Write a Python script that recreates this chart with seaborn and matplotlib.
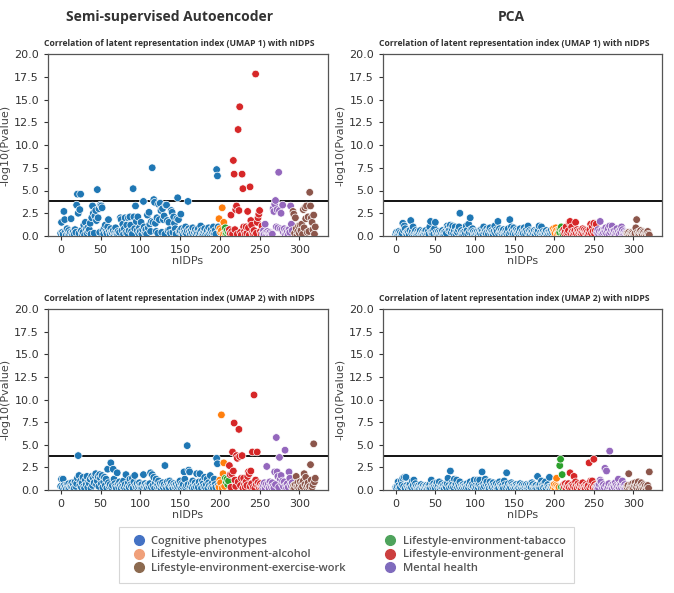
import numpy as np
import pandas as pd
import matplotlib
matplotlib.use("Agg")
import matplotlib.pyplot as plt
from matplotlib.lines import Line2D
import seaborn as sns

# Grupos de nIDPs (en orden de índice)
group_names = ["Cognitive phenotypes", "Lifestyle-environment-alcohol",
               "Lifestyle-environment-tabacco", "Lifestyle-environment-general",
               "Mental health", "Lifestyle-environment-exercise-work"]
group_sizes = [199, 8, 5, 42, 38, 29]

threshold = 3.8

# -log10(Pvalue) - Semi-supervised Autoencoder, UMAP 1
sae_umap1 = [
    0.3, 1.5, 0.4, 0.2, 2.7, 1.8, 0.5, 0.1, 0.8, 0.3, 0.6, 0.2, 0.4, 1.9, 0.3, 0.1, 0.5, 0.2, 0.7, 0.4,
    3.4, 4.6, 2.5, 0.3, 2.9, 4.6, 0.6, 0.2, 0.4, 1.2, 0.1, 1.5, 0.8, 0.3, 0.9, 0.5, 0.7, 1.4, 0.2, 2.0,
    3.3, 2.5, 0.3, 2.2, 2.8, 1.7, 5.1, 2.0, 3.0, 0.4, 3.4, 3.3, 3.1, 0.6, 0.2, 0.9, 1.2, 0.5, 0.3, 1.0,
    1.8, 0.5, 0.2, 0.8, 0.4, 0.3, 0.6, 0.1, 0.4, 0.9, 0.3, 0.2, 0.5, 0.1, 0.4, 2.0, 1.8, 0.6, 1.3, 0.2,
    0.8, 2.0, 0.4, 1.2, 0.3, 2.0, 0.6, 2.1, 1.2, 0.5, 0.2, 5.2, 2.1, 0.8, 3.3, 1.6, 0.6, 2.1, 0.3, 0.9,
    0.5, 1.5, 0.2, 0.7, 3.8, 1.0, 0.4, 0.7, 0.2, 2.3, 0.9, 2.6, 1.3, 0.5, 1.6, 7.5, 1.5, 4.0, 3.7, 1.4,
    0.5, 2.0, 0.3, 3.5, 1.8, 3.6, 2.8, 0.4, 3.0, 1.8, 2.2, 0.2, 3.4, 3.4, 1.7, 0.6, 1.5, 0.7, 0.3, 2.8,
    2.6, 0.4, 2.1, 1.4, 0.8, 0.2, 1.9, 4.2, 1.8, 0.5, 0.6, 2.4, 0.8, 0.3, 0.1, 0.7, 0.4, 1.0, 0.3, 0.6,
    3.8, 0.8, 0.5, 0.2, 0.6, 0.3, 0.9, 0.1, 0.4, 0.7, 0.2, 0.5, 0.3, 0.8, 0.1, 0.4, 1.1, 0.6, 0.2, 0.3,
    0.5, 0.8, 0.2, 0.4, 0.6, 0.1, 0.9, 0.3, 0.5, 0.7, 0.2, 0.4, 1.0, 0.3, 0.6, 0.2, 7.3, 6.6, 1.0,
    1.9, 0.8, 0.4, 0.6, 3.1, 0.2, 1.5, 0.3,
    0.9, 0.3, 0.6, 0.1, 0.4,
    0.7, 0.3, 2.3, 0.5, 0.2, 8.3, 6.8, 0.7, 2.9, 3.3, 0.2, 11.7, 2.8, 14.2, 0.4, 0.1, 6.8, 5.2, 1.0, 0.5,
    0.2, 1.0, 0.3, 2.7, 0.9, 0.1, 5.4, 1.7, 1.2, 0.4, 0.2, 0.6, 0.1, 17.8, 0.3, 1.5, 2.0, 2.4, 2.8, 0.5,
    0.2, 1.1,
    0.3, 0.6, 0.2, 1.3, 0.4, 0.1, 0.5, 0.3, 0.2, 0.4, 0.1, 0.3, 0.2, 3.0, 2.7, 3.5, 3.9, 1.0, 2.9, 0.9,
    7.0, 2.8, 0.8, 2.5, 0.7, 3.4, 0.4, 0.8, 0.2, 0.6, 0.3, 0.5, 0.1, 0.7, 0.4, 3.3, 1.3, 0.6,
    2.7, 2.4, 0.3, 2.0, 0.8, 0.1, 0.5, 1.1, 0.3, 1.2, 0.6, 1.3, 0.2, 2.9, 0.9, 3.1, 1.9, 3.3, 0.4, 2.1,
    0.5, 4.8, 3.3, 2.0, 1.5, 0.7, 2.3, 0.2, 1.0,
]

# -log10(Pvalue) - PCA, UMAP 1
pca_umap1 = [
    0.2, 0.4, 0.1, 0.3, 0.5, 0.2, 0.4, 0.1, 0.3, 1.4, 0.6, 1.1, 0.8, 0.3, 0.2, 0.5, 0.4, 0.1, 0.6, 1.7,
    0.3, 0.5, 1.0, 0.2, 0.4, 0.6, 0.1, 0.3, 0.5, 0.2, 0.4, 0.6, 0.1, 0.3, 0.5, 0.2, 0.4, 0.3, 0.6, 0.1,
    0.3, 0.5, 0.2, 1.0, 1.6, 0.4, 0.3, 0.6, 0.2, 0.8, 1.5, 0.4, 0.1, 0.3, 0.5, 0.2, 0.4, 0.1, 0.3, 0.6,
    0.2, 0.4, 0.1, 0.5, 0.3, 1.1, 0.9, 0.6, 0.7, 1.2, 0.4, 0.8, 1.1, 0.3, 0.6, 1.0, 0.2, 0.5, 0.4, 0.7,
    1.0, 2.5, 0.3, 0.6, 0.2, 0.4, 0.1, 0.5, 0.3, 1.1, 0.6, 0.2, 1.3, 0.4, 2.0, 0.7, 0.3, 0.8, 0.5, 0.2,
    0.4, 0.1, 0.3, 0.5, 0.2, 0.4, 0.6, 0.3, 0.7, 0.5, 0.2, 1.0, 0.4, 0.6, 0.3, 0.8, 0.5, 0.2, 0.7, 0.9,
    0.3, 0.6, 0.4, 0.2, 0.5, 1.1, 0.3, 0.7, 0.5, 1.6, 0.2, 0.8, 0.4, 0.6, 0.3, 0.5, 0.7, 0.2, 0.4, 0.6,
    0.3, 0.5, 0.8, 0.2, 1.8, 0.4, 1.0, 0.6, 0.3, 0.9, 0.5, 0.2, 0.7, 0.4, 0.6, 0.3, 0.5, 0.8, 0.2, 0.4,
    0.6, 0.3, 0.9, 0.5, 0.2, 0.7, 0.4, 1.1, 0.3, 0.6, 0.2, 0.5, 0.4, 0.1, 0.3, 0.6, 0.2, 0.5, 0.4, 0.3,
    0.6, 1.1, 0.2, 0.4, 1.0, 0.3, 0.5, 0.2, 0.4, 0.3, 0.6, 0.1, 0.4, 0.2, 0.5, 0.3, 0.6, 0.2, 0.4,
    0.8, 0.5, 0.3, 0.9, 0.6, 0.2, 0.4, 0.7,
    0.4, 0.8, 1.0, 0.5, 0.2,
    0.7, 0.3, 0.5, 1.0, 0.2, 0.4, 0.6, 1.5, 1.6, 0.3, 1.0, 0.5, 0.2, 0.4, 0.6, 1.5, 0.3, 0.7, 0.5, 0.2,
    0.4, 0.6, 0.3, 0.5, 0.8, 0.2, 0.7, 0.4, 0.6, 0.3, 0.5, 0.2, 0.4, 0.7, 1.3, 0.3, 1.0, 0.5, 1.4, 0.2,
    0.6, 1.3,
    0.4, 0.7, 0.2, 0.5, 1.6, 0.3, 0.6, 0.2, 0.4, 0.7, 0.5, 0.9, 0.3, 0.6, 0.8, 0.2, 1.1, 0.4, 0.7, 1.1,
    0.5, 0.3, 0.6, 0.2, 0.4, 0.8, 0.3, 0.5, 0.2, 0.6, 0.4, 1.0, 0.7, 0.3, 0.5, 0.2, 0.4, 0.3,
    0.3, 0.2, 0.4, 0.1, 0.3, 0.2, 0.4, 0.3, 0.1, 0.2, 0.3, 0.9, 1.8, 0.4, 0.2, 0.3, 0.5, 0.6, 0.3, 0.2,
    0.5, 0.4, 0.1, 0.3, 0.2, 0.4, 0.5, 0.2, 0.1,
]

# -log10(Pvalue) - Semi-supervised Autoencoder, UMAP 2
sae_umap2 = [
    0.4, 1.2, 0.3, 1.2, 0.5, 0.2, 0.4, 0.1, 0.6, 0.3, 0.7, 0.2, 0.5, 0.4, 0.8, 0.3, 0.6, 0.2, 0.9, 0.4,
    0.7, 1.3, 3.8, 1.6, 0.5, 1.0, 0.3, 0.8, 1.4, 0.4, 0.2, 1.1, 0.6, 1.5, 0.3, 0.9, 0.7, 1.2, 0.2, 1.5,
    0.5, 1.3, 0.8, 1.6, 1.8, 0.6, 1.0, 1.5, 0.4, 1.7, 1.3, 0.7, 1.6, 0.3, 0.9, 1.4, 0.5, 1.2, 0.2, 2.3,
    0.8, 0.4, 0.6, 3.0, 0.3, 0.5, 2.3, 1.2, 0.7, 0.4, 0.2, 1.9, 0.6, 0.3, 0.9, 0.5, 0.2, 0.7, 0.4, 1.0,
    0.3, 0.6, 1.7, 0.2, 0.5, 0.8, 0.3, 1.2, 0.6, 0.4, 1.3, 0.2, 0.9, 1.6, 0.5, 0.3, 0.7, 0.2, 0.4, 0.8,
    0.5, 0.3, 0.6, 0.2, 1.7, 0.4, 0.7, 0.3, 0.5, 0.2, 0.6, 0.4, 0.7, 1.9, 0.3, 1.7, 0.5, 1.4, 0.2, 0.8,
    1.2, 0.4, 0.6, 1.0, 0.3, 0.7, 0.2, 0.5, 0.8, 0.3, 0.6, 2.7, 0.4, 0.2, 0.9, 0.5, 0.3, 1.0, 0.6, 0.8,
    0.4, 0.2, 0.7, 0.5, 0.3, 0.6, 0.2, 0.4, 0.8, 0.5, 1.0, 0.3, 0.7, 0.4, 0.6, 2.0, 1.2, 0.3, 0.5, 4.9,
    0.6, 2.2, 2.0, 0.4, 0.7, 0.3, 1.0, 0.5, 0.2, 0.8, 0.4, 1.8, 0.6, 0.3, 0.9, 1.8, 0.5, 0.2, 1.0, 0.7,
    0.4, 1.4, 0.3, 0.6, 1.2, 0.2, 0.8, 0.5, 1.6, 0.3, 0.7, 0.4, 0.2, 1.2, 0.6, 0.3, 3.5, 2.9, 0.5,
    0.3, 1.1, 0.8, 8.3, 0.2, 1.8, 3.0, 0.4,
    1.3, 0.9, 1.2, 0.6, 1.0,
    2.7, 1.7, 0.3, 1.8, 4.2, 2.1, 7.4, 1.1, 0.4, 3.8, 3.5, 0.9, 6.7, 3.7, 0.5, 1.3, 3.8, 0.2, 1.3, 0.6,
    0.3, 0.9, 0.5, 1.5, 2.0, 1.8, 0.4, 2.1, 0.7, 4.2, 0.3, 10.5, 0.2, 1.1, 0.6, 4.2, 0.8, 0.4, 0.2, 0.7,
    0.3, 0.5,
    0.3, 0.5, 0.8, 0.2, 0.6, 2.6, 0.4, 0.7, 0.2, 0.9, 0.5, 0.3, 0.8, 0.4, 0.2, 2.0, 0.6, 5.8, 2.0, 1.5,
    0.3, 3.6, 1.2, 1.6, 0.7, 1.0, 0.4, 0.9, 4.4, 0.5, 0.2, 0.7, 0.3, 2.0, 1.3, 0.6, 0.4, 0.8,
    0.3, 0.5, 0.2, 0.6, 1.5, 0.4, 0.8, 0.3, 0.5, 0.9, 0.2, 0.7, 0.4, 1.0, 1.8, 0.6, 1.4, 0.3, 0.5, 0.8,
    0.2, 0.4, 2.8, 1.1, 0.3, 0.6, 5.1, 0.9, 1.3,
]

# -log10(Pvalue) - PCA, UMAP 2
pca_umap2 = [
    0.3, 0.2, 0.4, 0.9, 0.5, 0.2, 0.3, 1.0, 0.6, 1.3, 0.4, 1.4, 0.2, 1.4, 0.5, 0.3, 0.1, 0.4, 0.6, 0.2,
    0.3, 1.0, 0.5, 1.1, 0.2, 0.7, 0.4, 0.1, 0.3, 0.5, 0.2, 0.4, 0.6, 0.3, 0.1, 0.5, 0.2, 0.4, 0.3, 0.5,
    0.2, 0.4, 0.3, 0.6, 0.2, 1.1, 0.5, 0.3, 0.7, 0.4, 0.2, 0.6, 0.8, 0.3, 0.5, 0.9, 0.2, 0.4, 0.7, 0.3,
    0.5, 0.2, 0.6, 0.4, 0.3, 0.7, 1.3, 0.5, 0.2, 2.1, 0.4, 0.8, 0.6, 0.3, 1.2, 0.5, 0.7, 1.1, 0.3, 0.6,
    0.4, 0.9, 0.2, 0.5, 0.3, 0.6, 0.4, 0.2, 0.5, 0.3, 0.7, 0.4, 0.2, 0.6, 0.9, 0.3, 0.5, 0.7, 0.4, 1.1,
    0.2, 0.5, 0.3, 1.1, 0.3, 0.6, 1.1, 0.4, 0.2, 2.0, 0.3, 0.7, 0.4, 1.2, 0.6, 0.9, 0.3, 0.5, 0.2, 0.9,
    0.4, 0.6, 0.3, 0.8, 0.5, 0.2, 0.4, 0.7, 0.3, 0.5, 0.2, 0.9, 0.6, 0.4, 0.3, 0.5, 0.2, 1.0, 0.6, 0.3,
    1.9, 0.4, 0.7, 0.2, 0.5, 0.3, 0.8, 0.6, 0.4, 0.2, 0.5, 0.3, 0.6, 0.4, 0.2, 0.3, 0.5, 0.7, 0.4, 0.2,
    0.6, 0.3, 0.5, 0.2, 0.4, 0.6, 0.3, 0.5, 0.2, 0.4, 0.7, 0.3, 0.8, 0.6, 0.2, 0.4, 0.3, 0.5, 0.2, 1.5,
    0.4, 0.3, 0.6, 0.2, 1.0, 0.5, 0.3, 0.7, 0.4, 0.9, 0.2, 0.5, 0.6, 0.3, 1.4, 0.2, 0.4, 0.3, 0.5,
    0.3, 0.6, 0.2, 0.5, 1.3, 0.4, 0.2, 0.3,
    2.7, 3.4, 0.3, 1.7, 0.2,
    0.6, 0.3, 0.7, 0.2, 0.5, 0.4, 0.7, 0.3, 1.9, 0.5, 0.2, 0.6, 0.4, 1.5, 0.3, 0.9, 0.5, 0.2, 0.7, 0.4,
    0.3, 0.6, 0.2, 0.5, 0.8, 0.3, 0.4, 0.2, 0.6, 0.4, 0.3, 0.5, 3.0, 0.2, 1.0, 0.4, 1.0, 0.3, 3.4, 0.6,
    0.2, 0.4,
    0.3, 0.5, 0.2, 0.6, 1.1, 0.9, 0.4, 0.2, 0.6, 0.3, 2.4, 0.5, 2.1, 0.2, 0.4, 0.7, 4.3, 0.3, 0.5, 0.2,
    0.6, 0.4, 0.3, 0.8, 0.5, 0.2, 0.4, 1.2, 0.3, 0.6, 0.5, 0.2, 1.0, 0.4, 0.3, 0.6, 0.2, 0.4,
    0.3, 0.5, 1.8, 0.2, 0.4, 0.6, 0.3, 0.7, 0.2, 0.5, 0.8, 0.4, 0.3, 0.6, 0.9, 0.2, 0.5, 0.3, 0.8, 0.4,
    0.2, 0.6, 0.3, 0.5, 0.1, 0.4, 0.5, 0.2, 2.0,
]

# Colores del scatter (tab10) y colores apagados de la leyenda
palette = dict(zip(group_names, sns.color_palette("tab10", 6)))
legend_colors = {
    "Cognitive phenotypes": "#4472c4",
    "Lifestyle-environment-alcohol": "#f0a07a",
    "Lifestyle-environment-exercise-work": "#8c6a4f",
    "Lifestyle-environment-tabacco": "#4ea35c",
    "Lifestyle-environment-general": "#cc3f3f",
    "Mental health": "#7f6bbd",
}
legend_order = ["Cognitive phenotypes", "Lifestyle-environment-alcohol",
                "Lifestyle-environment-exercise-work", "Lifestyle-environment-tabacco",
                "Lifestyle-environment-general", "Mental health"]

sns.set_style("ticks")
plt.rcParams["font.family"] = ["DejaVu Sans"]

groups = np.repeat(group_names, group_sizes)


def make_df(values):
    assert len(values) == len(groups), len(values)
    return pd.DataFrame({"nIDPs": np.arange(len(values)), "logp": values, "group": groups})


fig = plt.figure(figsize=(6.74, 5.93), dpi=100)
W, H = 674, 593
boxes = {  # left, top, right, bottom en píxeles
    "tl": (48, 54, 328, 236),
    "tr": (383, 54, 662, 236),
    "bl": (48, 309, 328, 490),
    "br": (383, 309, 662, 490),
}
panels = [("tl", sae_umap1, 1), ("tr", pca_umap1, 1), ("bl", sae_umap2, 2), ("br", pca_umap2, 2)]

title_font = ["Open Sans", "DejaVu Sans"]

for key, values, umap in panels:
    l, t, r, b = boxes[key]
    ax = fig.add_axes([l / W, 1 - b / H, (r - l) / W, (b - t) / H])
    df = make_df(values)
    sns.scatterplot(data=df, x="nIDPs", y="logp", hue="group", palette=palette,
                    s=30, edgecolor="white", linewidth=0.5, legend=False, ax=ax, zorder=3)
    ax.axhline(threshold, color="black", linewidth=1.3, zorder=2)
    ax.set_ylim(0, 20)
    ax.set_xticks([0, 50, 100, 150, 200, 250, 300])
    ax.set_yticks([0, 2.5, 5, 7.5, 10, 12.5, 15, 17.5, 20])
    ax.tick_params(labelsize=8, colors="#333333", length=3, width=0.8)
    ax.set_xlabel("nIDPs", fontsize=8, color="#444444", labelpad=1)
    ax.set_ylabel("-log10(Pvalue)", fontsize=8, color="#444444", labelpad=3)
    ax.set_title(f"Correlation of latent representation index (UMAP {umap}) with nIDPS",
                 fontsize=6.2, fontweight="bold", color="#333333", pad=6, family=title_font,
                 x=0.47)
    for sp in ax.spines.values():
        sp.set_color("#555555")
        sp.set_linewidth(0.9)

fig.text(170 / W, 1 - 17 / H, "Semi-supervised Autoencoder", ha="center", va="center",
         fontsize=10, fontweight="bold", color="#333333", family=title_font)
fig.text(511 / W, 1 - 17 / H, "PCA", ha="center", va="center",
         fontsize=10, fontweight="bold", color="#333333", family=title_font)

handles = [Line2D([0], [0], marker="o", linestyle="", markersize=7,
                  markerfacecolor=legend_colors[g], markeredgecolor=legend_colors[g]) for g in legend_order]
leg = fig.legend(handles, legend_order, ncol=2, loc="center", mode="expand",
                 bbox_to_anchor=(113 / W, 1 - 582 / H, 467 / W, 54 / H),
                 frameon=True, fancybox=False, handletextpad=0.1, labelspacing=0.25,
                 borderpad=0.8, prop={"family": title_font, "size": 8, "weight": "semibold"})
leg.get_frame().set_edgecolor("#cccccc")
leg.get_frame().set_linewidth(0.8)
for txt in leg.get_texts():
    txt.set_color("#555555")

fig.savefig("out.png", dpi=100)
